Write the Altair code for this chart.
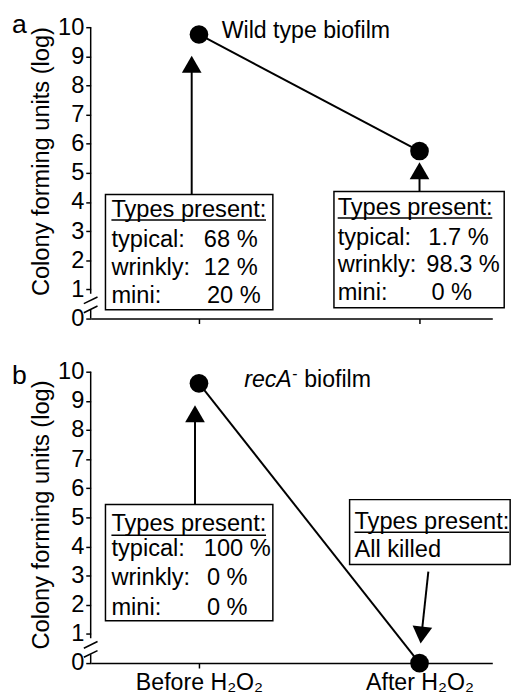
import json
import altair as alt
import pandas as pd

# ---------------- data ----------------
conditions = ["Before H₂O₂", "After H₂O₂"]
condition_pos = [1, 2]
wild_type_cfu = [9.75, 5.75]      # log CFU
recA_cfu = [9.6, 0.0]             # log CFU

type_names = ["typical:", "wrinkly:", "mini:"]
wt_before_pct = [68, 12, 20]
wt_after_pct = [1.7, 98.3, 0]
recA_before_pct = [100, 0, 0]
recA_after_note = "All killed"
header = "Types present:"

FONT = "Liberation Sans"
FS = 24
XDOM = [0.509, 2.33]
YDOM = [0, 10]
W, H = 408, 296


def pct(v):
    return f"{v:g} %"


def make_axes(show_labels, title_y):
    xaxis = alt.Axis(values=condition_pos, labels=show_labels, ticks=True, tickSize=5,
                     grid=False, title=None, labelFontSize=23.5, labelPadding=3,
                     labelFlush=False,
                     labelExpr=f"{json.dumps(conditions, ensure_ascii=False)}[datum.value - 1]")
    yaxis = alt.Axis(values=list(range(0, 11)), domain=False, tickSize=5,
                     grid=False, labelFontSize=24, labelPadding=2, labelOverlap=False,
                     title="Colony forming units (log)", titleFontSize=24,
                     titleFontWeight="normal", titlePadding=4, titleY=title_y)
    return xaxis, yaxis


class Panel:
    def __init__(self, show_labels, title_y):
        self.xaxis, self.yaxis = make_axes(show_labels, title_y)

    def enc(self, **extra):
        return dict(
            x=alt.X("x:Q", scale=alt.Scale(domain=XDOM, nice=False, zero=False), axis=self.xaxis),
            y=alt.Y("y:Q", scale=alt.Scale(domain=YDOM, nice=False), axis=self.yaxis),
            **extra)

    def line(self, cfu):
        df = pd.DataFrame({"x": condition_pos, "y": cfu})
        return alt.Chart(df).mark_line(color="black", strokeWidth=2).encode(**self.enc())

    def dots(self, cfu):
        df = pd.DataFrame({"x": condition_pos, "y": cfu})
        return alt.Chart(df).mark_circle(size=360, color="black", opacity=1).encode(**self.enc())

    def rules(self, rows, width=2):
        df = pd.DataFrame(rows, columns=["x", "y", "x2", "y2"])
        return alt.Chart(df).mark_rule(color="black", strokeWidth=width).encode(
            **self.enc(x2="x2:Q", y2="y2:Q"))

    def boxes(self, rows):
        df = pd.DataFrame(rows, columns=["x", "y", "x2", "y2"])
        return alt.Chart(df).mark_rect(fill="white", stroke="black", strokeWidth=1.5).encode(
            **self.enc(x2="x2:Q", y2="y2:Q"))

    def texts(self, rows, size=FS, **kw):
        df = pd.DataFrame(rows, columns=["x", "y", "t"])
        return alt.Chart(df).mark_text(align="left", baseline="alphabetic", font=FONT,
                                       fontSize=size, color="black", **kw).encode(
            **self.enc(text="t:N"))

    def heads(self, rows):
        df = pd.DataFrame(rows, columns=["x", "y", "shape", "ang"])
        return alt.Chart(df).mark_point(filled=True, size=400, color="black", opacity=1).encode(
            **self.enc(shape=alt.Shape("shape:N", scale=None),
                       angle=alt.Angle("ang:Q", scale=None)))


# y-axis line with break marks (data units)
axis_break = [
    (0.509, 10.0, 0.509, 0.85),
    (0.478, 0.51, 0.540, 0.74),
    (0.478, 0.20, 0.540, 0.43),
    (0.509, 0.30, 0.509, 0.0),
]

# ---------------- panel a ----------------
pa = Panel(False, 136)
aL_y = [3.48, 2.47, 1.49, 0.54]
aR_y = [3.55, 2.53, 1.59, 0.64]
panel_a = alt.layer(
    pa.line(wild_type_cfu),
    pa.rules(axis_break, 1.5),
    pa.dots(wild_type_cfu),
    pa.boxes([(0.576, 4.26, 1.335, 0.30), (1.612, 4.36, 2.384, 0.37)]),
    pa.texts([(0.603, aL_y[0], header), (1.629, aR_y[0], header)]
             + [(0.603, y, n) for y, n in zip(aL_y[1:], type_names)]
             + [(x, y, pct(v)) for x, y, v in zip([1.022, 1.022, 1.036], aL_y[1:], wt_before_pct)]
             + [(1.629, y, n) for y, n in zip(aR_y[1:], type_names)]
             + [(x, y, pct(v)) for x, y, v in zip([2.040, 2.031, 2.054], aR_y[1:], wt_after_pct)]),
    pa.texts([(1.103, 9.63, "Wild type biofilm")], size=23.5),
    pa.texts([(0.152, 9.80, "a")], size=27),
    pa.rules([(0.603, 3.38, 1.304, 3.38), (1.629, 3.45, 2.330, 3.45)], 1.5),
    pa.rules([(0.967, 4.26, 0.967, 8.73), (2.0, 4.36, 2.0, 5.07)], 2),
    pa.heads([(0.967, 8.73, "triangle-up", 0), (2.0, 5.07, "triangle-up", 0)]),
).properties(width=W, height=H)

# ---------------- panel b ----------------
pb = Panel(True, 145)
bL_y = [4.53, 3.68, 2.67, 1.66]
bR_y = [4.59, 3.65]
RX = 1.205
panel_b = alt.layer(
    pb.line(recA_cfu),
    pb.rules(axis_break, 1.5),
    pb.dots(recA_cfu),
    pb.boxes([(0.576, 5.44, 1.335, 1.45), (1.683, 5.61, 2.411, 3.38)]),
    pb.texts([(0.603, bL_y[0], header), (1.705, bR_y[0], header), (1.705, bR_y[1], recA_after_note)]
             + [(0.603, y, n) for y, n in zip(bL_y[1:], type_names)]
             + [(x, y, pct(v)) for x, y, v in zip([1.022, 1.036, 1.036], bL_y[1:], recA_before_pct)]),
    pb.texts([(RX + 0.272, 9.49, "biofilm")], size=23.5),
    pb.texts([(RX, 9.49, "recA")], size=23.5, fontStyle="italic"),
    pb.texts([(RX + 0.218, 9.49, "-")], size=16, dy=-8),
    pb.texts([(0.152, 9.59, "b")], size=27),
    pb.rules([(0.603, 4.39, 1.304, 4.39), (1.705, 4.49, 2.406, 4.49)], 1.5),
    pb.rules([(0.982, 5.44, 0.982, 8.56), (2.040, 3.14, 2.009, 0.96)], 2),
    pb.heads([(0.982, 8.56, "triangle-up", 0), (2.009, 0.96, "triangle-down", 6)]),
).properties(width=W, height=H)

chart = alt.vconcat(panel_a, panel_b, spacing=30).properties(
    padding={"left": 4, "top": -3, "right": 0, "bottom": 0}
).configure_view(stroke=None).configure_axis(
    domainColor="black", tickColor="black", labelColor="black", titleColor="black",
    domainWidth=1.5, tickWidth=1.5, labelFont=FONT, titleFont=FONT,
).configure_axisY(labelOverlap=False).configure_text(font=FONT)

chart.save("out.html", embed_options={"renderer": "svg", "actions": False})
